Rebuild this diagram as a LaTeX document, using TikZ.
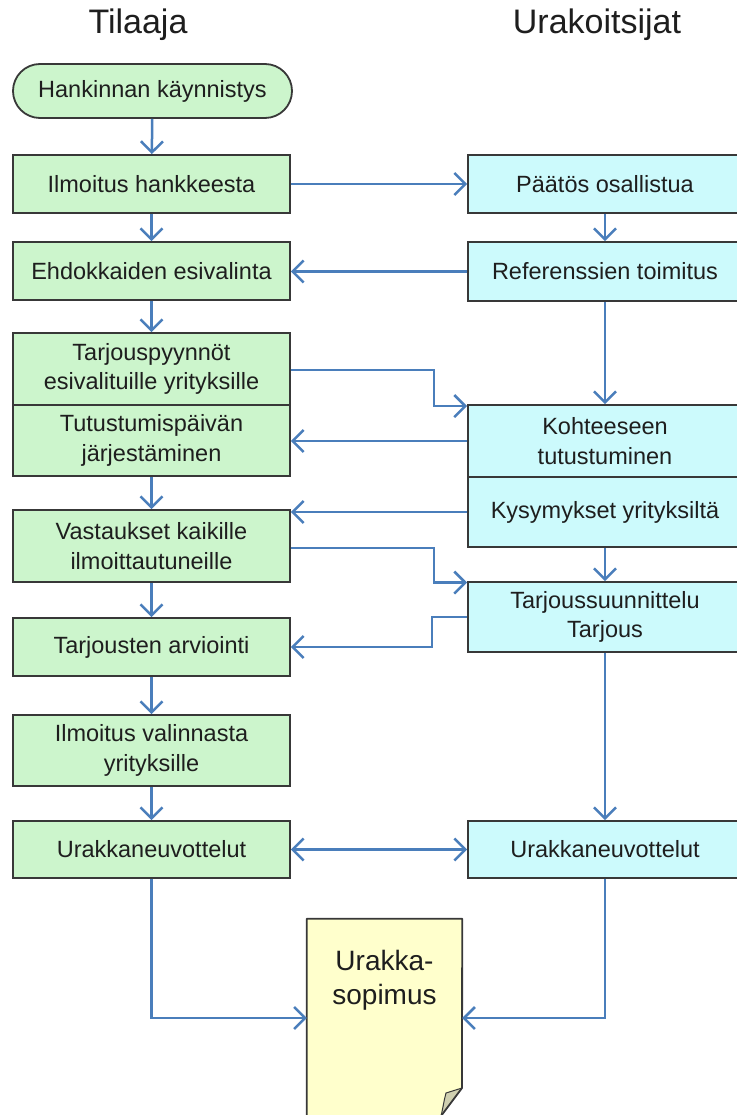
\documentclass[tikz,border=0pt]{standalone}
\usepackage{fontspec}
\setmainfont{Liberation Sans}
\usetikzlibrary{arrows.meta,shapes.misc,calc}
\definecolor{lgreen}{HTML}{CCF5CC}
\definecolor{lcyan}{HTML}{CCFAFC}
\definecolor{lyellow}{HTML}{FFFFCC}
\definecolor{conn}{HTML}{4A7EBB}
\definecolor{bord}{HTML}{383838}
\definecolor{txt}{HTML}{1E1E1E}
\definecolor{foldc}{HTML}{CFCFB0}
\tikzset{
  boxbase/.style={draw=bord, line width=1.8pt, align=center, text=txt,
    font=\fontsize{23.5}{29.5}\selectfont, inner sep=0pt},
  lbox/.style={boxbase, fill=lgreen, minimum width=277pt},
  rbox/.style={boxbase, fill=lcyan, minimum width=274pt},
  startbox/.style={boxbase, fill=lgreen, rounded rectangle, minimum width=279pt, minimum height=54pt},
  title/.style={font=\fontsize{34}{40}\selectfont, text=txt, inner sep=0pt},
  flow/.style={draw=conn, line width=2.5pt, -{Straight Barb[length=11pt,width=22pt,line width=2.5pt]}},
  flowboth/.style={draw=conn, line width=2.5pt, {Straight Barb[length=11pt,width=22pt,line width=2.5pt]}-{Straight Barb[length=11pt,width=22pt,line width=2.5pt]}}
}
\begin{document}
\begin{tikzpicture}[x=1pt,y=-1pt]
\useasboundingbox (0,0) rectangle (736,1115);
\fill[white] (0,0) rectangle (736,1115);
% titles
\node[title] (tL) at (138,25) {Tilaaja};
\node[title] (tR) at (597,25) {Urakoitsijat};
% left column
\node[startbox] (start) at (152.5,91) {Hankinnan käynnistys};
\node[lbox, minimum height=58pt] (ilm) at (151.5,184) {Ilmoitus hankkeesta};
\node[lbox, minimum height=58pt] (ehd) at (151.5,271) {Ehdokkaiden esivalinta};
\node[lbox, minimum height=72pt] (tarj) at (151.5,369) {Tarjouspyynnöt\\esivalituille yrityksille};
\node[lbox, minimum height=71pt] (tut) at (151.5,440.5) {Tutustumispäivän\\järjestäminen};
\node[lbox, minimum height=72pt] (vast) at (151.5,546) {Vastaukset kaikille\\ilmoittautuneille};
\node[lbox, minimum height=58pt] (arv) at (151.5,647) {Tarjousten arviointi};
\node[lbox, minimum height=71pt] (ilmv) at (151.5,750.5) {Ilmoitus valinnasta\\yrityksille};
\node[lbox, minimum height=57pt] (urL) at (151.5,849.5) {Urakkaneuvottelut};
% right column
\node[rbox, minimum height=58pt] (paat) at (605,184) {Päätös osallistua};
\node[rbox, minimum height=59pt] (ref) at (605,271.5) {Referenssien toimitus};
\node[rbox, minimum height=72pt] (koh) at (605,441) {Kohteeseen\\tutustuminen};
\node[rbox, minimum height=70pt] (kys) at (605,512) {Kysymykset yrityksiltä};
\node[rbox, minimum height=70pt] (tsu) at (605,617) {Tarjoussuunnittelu\\Tarjous};
\node[rbox, minimum height=57pt] (urR) at (605,849.5) {Urakkaneuvottelut};
% document
\node[minimum width=155pt, minimum height=197pt, inner sep=0pt] (doc) at (384.5,1017.5) {};
\fill[lyellow] (doc.north west) -- (doc.north east) -- (462,1088) -- (441,1116) -- (doc.south west) -- cycle;
\fill[foldc] (462,1088) -- (446,1093) .. controls (444,1100) and (443,1108) .. (441,1116) -- cycle;
\draw[bord, line width=1.8pt, line join=round] (441,1116) -- (doc.south west) -- (doc.north west) -- (doc.north east) -- (462,1088) -- (441,1116);
\draw[bord, line width=1pt] (462,1088) -- (446,1093) .. controls (444,1100) and (443,1108) .. (441,1116);
\node[align=center, text=txt, font=\fontsize{28}{34}\selectfont, inner sep=0pt] (doct) at (384.5,980) {Urakka-\\sopimus};
% connectors
\draw[flow] (start) -- (ilm);
\draw[flow] (ilm) -- (paat);
\draw[flow] (ilm) -- (ehd);
\draw[flow] (paat) -- (ref);
\draw[flow] (ref.west) -- (ref.west -| ehd.east);
\draw[flow] (ehd) -- (tarj);
\draw[flow] (ref) -- (koh);
\draw[flow] ([yshift=-1pt]tarj.east) -- ++(143,0) |- ([yshift=-2pt]koh.north west);
\draw[flow] (koh.west) -- (koh.west -| tut.east);
\draw[flow] (tut) -- (vast);
\draw[flow] (kys.west) -- (kys.west -| vast.east);
\draw[flow] ([yshift=-2pt]vast.east) -- ++(143,0) |- ([yshift=-1.5pt]tsu.north west);
\draw[flow] (kys) -- (tsu);
\draw[flow] (tsu.west) -- ++(-35,0) |- (arv.east);
\draw[flow] (vast) -- (arv);
\draw[flow] (arv) -- (ilmv);
\draw[flow] (ilmv) -- (urL);
\draw[flow] (tsu) -- (urR);
\draw[flowboth] (urL) -- (urR);
\coordinate (jL) at (151.5,1018);
\coordinate (jR) at (605,1018);
\draw[flow] (urL.south) -- (jL) -- (jL -| doc.west);
\draw[flow] (urR.south) -- (jR) -- (jR -| doc.east);
\end{tikzpicture}
\end{document}
